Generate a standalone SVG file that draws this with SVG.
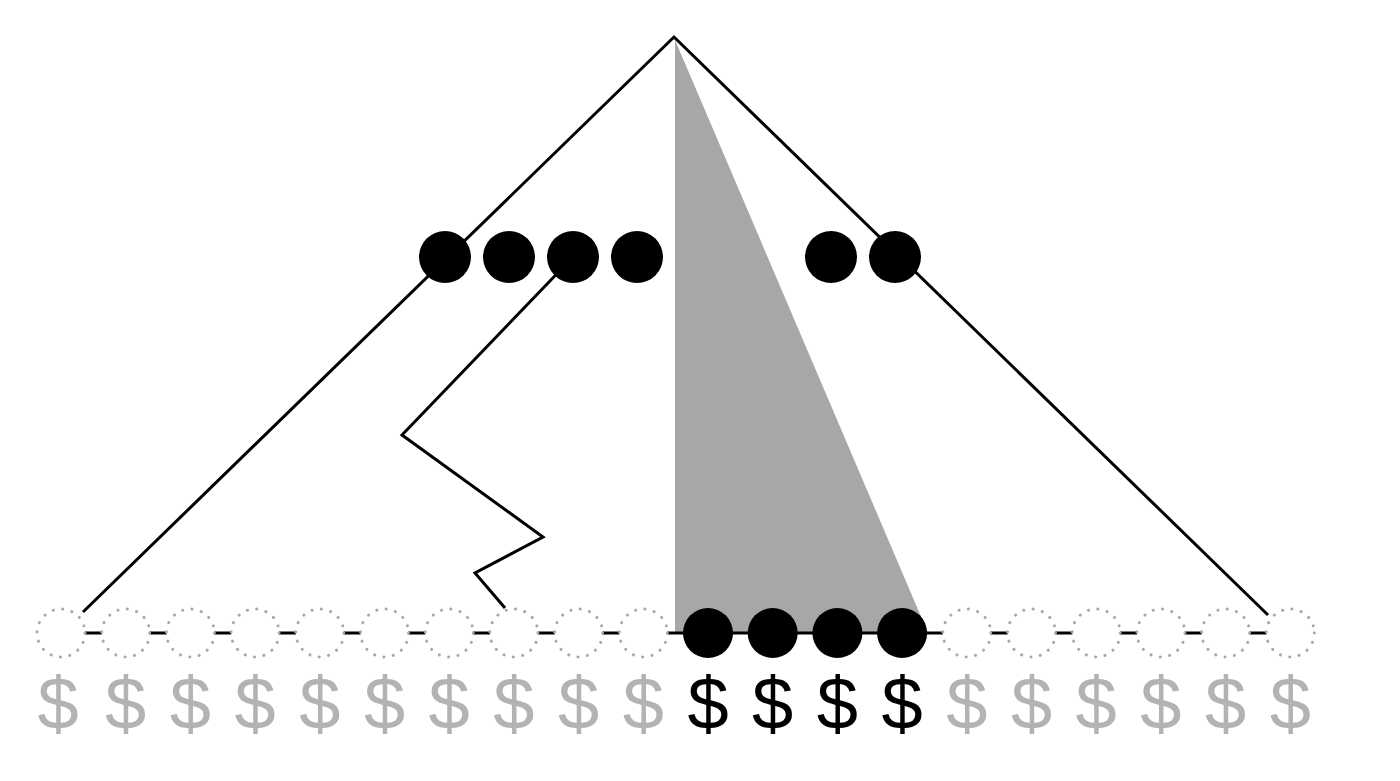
<svg xmlns="http://www.w3.org/2000/svg" width="1400" height="781" viewBox="0 0 1400 781">
<style>
.ln{fill:none;stroke:#000;stroke-width:3;stroke-linejoin:miter}
.dot{fill:#fff;stroke:#a8a8a8;stroke-width:3;stroke-linecap:round;stroke-dasharray:0.1 9.4}
.blk{fill:#000}
.d{font-family:"Liberation Sans",Arial,sans-serif;font-size:74px;text-anchor:middle;fill:#b3b3b3}
.d.on{fill:#000}
</style>
<rect width="1400" height="781" fill="#fff"/>
<g id="shade"><polygon points="675,40 675,633 928,633" fill="#a5a8a6"/></g>
<g id="connectors">
<line class="ln" x1="61" y1="633" x2="1290" y2="633"/>
<polyline class="ln" points="83,612 674,37 1268,615"/>
<polyline class="ln" points="573,257 402,435 543,537 475,573 505,608"/>
</g>
<g id="top-row">
<circle class="blk" cx="445" cy="257" r="26"/>
<circle class="blk" cx="509" cy="257" r="26"/>
<circle class="blk" cx="573" cy="257" r="26"/>
<circle class="blk" cx="637" cy="257" r="26"/>
<circle class="blk" cx="831" cy="257" r="26"/>
<circle class="blk" cx="895" cy="257" r="26"/>
</g>
<g id="bottom-row">
<circle class="dot" cx="61" cy="633" r="24"/>
<circle class="dot" cx="125.7" cy="633" r="24"/>
<circle class="dot" cx="190.4" cy="633" r="24"/>
<circle class="dot" cx="255.1" cy="633" r="24"/>
<circle class="dot" cx="319.8" cy="633" r="24"/>
<circle class="dot" cx="384.5" cy="633" r="24"/>
<circle class="dot" cx="449.2" cy="633" r="24"/>
<circle class="dot" cx="513.9" cy="633" r="24"/>
<circle class="dot" cx="578.6" cy="633" r="24"/>
<circle class="dot" cx="643.3" cy="633" r="24"/>
<circle class="blk" cx="708" cy="633" r="25"/>
<circle class="blk" cx="772.7" cy="633" r="25"/>
<circle class="blk" cx="837.4" cy="633" r="25"/>
<circle class="blk" cx="902.1" cy="633" r="25"/>
<circle class="dot" cx="966.8" cy="633" r="24"/>
<circle class="dot" cx="1031.5" cy="633" r="24"/>
<circle class="dot" cx="1096.2" cy="633" r="24"/>
<circle class="dot" cx="1160.9" cy="633" r="24"/>
<circle class="dot" cx="1225.6" cy="633" r="24"/>
<circle class="dot" cx="1290.3" cy="633" r="24"/>
</g>
<g id="dollars">
<text class="d" x="58" y="729">$</text>
<text class="d" x="125.7" y="729">$</text>
<text class="d" x="190.4" y="729">$</text>
<text class="d" x="255.1" y="729">$</text>
<text class="d" x="319.8" y="729">$</text>
<text class="d" x="384.5" y="729">$</text>
<text class="d" x="449.2" y="729">$</text>
<text class="d" x="513.9" y="729">$</text>
<text class="d" x="578.6" y="729">$</text>
<text class="d" x="643.3" y="729">$</text>
<text class="d on" x="708" y="729">$</text>
<text class="d on" x="772.7" y="729">$</text>
<text class="d on" x="837.4" y="729">$</text>
<text class="d on" x="902.1" y="729">$</text>
<text class="d" x="966.8" y="729">$</text>
<text class="d" x="1031.5" y="729">$</text>
<text class="d" x="1096.2" y="729">$</text>
<text class="d" x="1160.9" y="729">$</text>
<text class="d" x="1225.6" y="729">$</text>
<text class="d" x="1290.3" y="729">$</text>
</g>
</svg>
